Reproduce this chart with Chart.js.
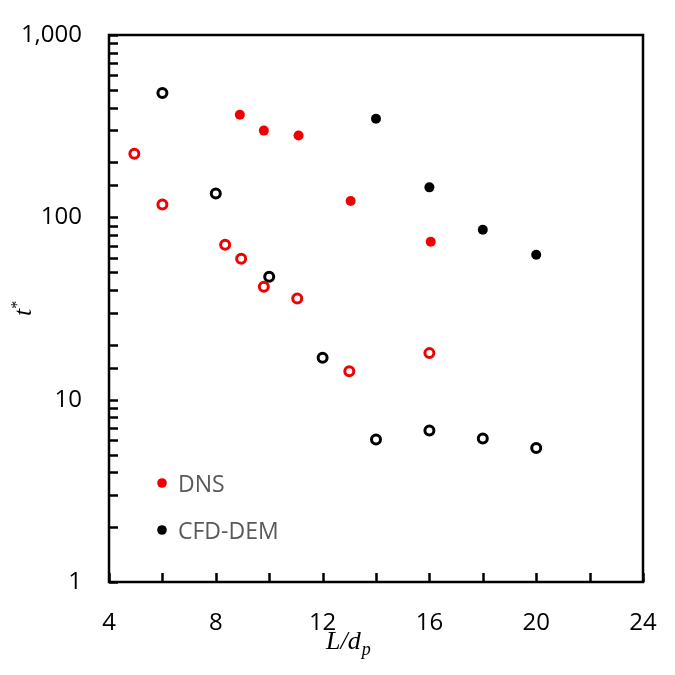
<!DOCTYPE html>
<html>
<head>
<meta charset="utf-8">
<script src="https://cdn.jsdelivr.net/npm/chart.js@4"></script>
<style>
  html, body { margin: 0; padding: 0; background: #fff; }
  #wrap { width: 675px; height: 675px; position: relative; }
</style>
</head>
<body>
<div id="wrap"><canvas id="chart"></canvas></div>
<script>
// valores (x = L/dp, y = t*)
const dnsSolidX = [8.9, 9.8, 11.1, 13.05, 16.05];
const dnsSolidY = [365, 299, 281, 123, 73.4];
const dnsOpenX = [4.95, 6, 8.35, 8.95, 9.8, 11.05, 13, 16];
const dnsOpenY = [223, 117.5, 70.7, 59.2, 41.6, 35.9, 14.3, 18.0];
const cfdSolidX = [14, 16, 18, 20];
const cfdSolidY = [347, 146, 85.4, 62.3];
const cfdOpenX = [6, 8, 10, 12, 14, 16, 18, 20];
const cfdOpenY = [481, 135, 47.2, 17.0, 6.05, 6.78, 6.13, 5.43];

// etiquetas de los ejes
const xTickLabels = ['4', '8', '12', '16', '20', '24'];
const yTickLabels = ['1', '10', '100', '1,000'];
const legendNames = ['DNS', 'CFD-DEM'];

const RED = '#f00000';
const BLACK = '#000000';

// juntar x e y en puntos
function toPoints(xs, ys) {
    return xs.map((x, i) => ({ x: x, y: ys[i] }));
}

// ticks hacia adentro, marco, leyenda y titulos
const decor = {
    id: 'decor',
    afterDraw(chart) {
        const ctx = chart.ctx;
        const a = chart.chartArea;
        const xs = chart.scales.x;
        const ys = chart.scales.y;
        ctx.save();
        ctx.strokeStyle = '#000';
        ctx.lineWidth = 2.5;
        ctx.beginPath();
        ys.ticks.forEach(t => {
            const py = Math.round(ys.getPixelForValue(t.value)) + 0.5;
            ctx.moveTo(a.left, py);
            ctx.lineTo(a.left + 9, py);
        });
        xs.ticks.forEach(t => {
            const px = Math.round(xs.getPixelForValue(t.value)) + 0.5;
            ctx.moveTo(px, a.bottom);
            ctx.lineTo(px, a.bottom - 9);
        });
        ctx.stroke();
        ctx.strokeRect(a.left, a.top, a.right - a.left, a.bottom - a.top);

        // leyenda dentro del area
        const colors = [RED, BLACK];
        ctx.font = '23px "Open Sans"';
        ctx.textBaseline = 'alphabetic';
        ctx.textAlign = 'left';
        legendNames.forEach((name, i) => {
            const cy = a.top + 448 + i * 47;
            ctx.fillStyle = colors[i];
            ctx.beginPath();
            ctx.arc(a.left + 53, cy, 4.8, 0, Math.PI * 2);
            ctx.fill();
            ctx.fillStyle = '#595959';
            ctx.fillText(name, a.left + 69, cy + 9);
        });

        // titulo eje x: L/d_p
        ctx.fillStyle = '#000';
        ctx.font = 'italic 26px "Liberation Serif"';
        ctx.fillText('L/d', 326, 649);
        const w = ctx.measureText('L/d').width;
        ctx.font = 'italic 18px "Liberation Serif"';
        ctx.fillText('p', 326 + w + 1, 655);

        // titulo eje y: t*
        ctx.translate(31, 316);
        ctx.rotate(-Math.PI / 2);
        ctx.font = 'italic 26px "Liberation Serif"';
        ctx.fillText('t', 0, 0);
        const tw = ctx.measureText('t').width;
        ctx.font = '16px "Liberation Serif"';
        ctx.fillText('*', tw, -9);
        ctx.restore();
    }
};

const ctx = document.getElementById('chart').getContext('2d');
new Chart(ctx, {
    type: 'scatter',
    data: {
        datasets: [
            { label: 'DNS', data: toPoints(dnsSolidX, dnsSolidY), backgroundColor: RED, borderWidth: 0, pointRadius: 5 },
            { label: 'DNS open', data: toPoints(dnsOpenX, dnsOpenY), backgroundColor: '#fff', borderColor: RED, borderWidth: 3, pointRadius: 4.5 },
            { label: 'CFD-DEM', data: toPoints(cfdSolidX, cfdSolidY), backgroundColor: BLACK, borderWidth: 0, pointRadius: 5 },
            { label: 'CFD-DEM open', data: toPoints(cfdOpenX, cfdOpenY), backgroundColor: '#fff', borderColor: BLACK, borderWidth: 3, pointRadius: 4.5 }
        ]
    },
    options: {
        responsive: true,
        maintainAspectRatio: false,
        animation: false,
        layout: { padding: { top: 35, right: 32, left: 0, bottom: 0 } },
        plugins: { legend: { display: false }, tooltip: { enabled: false } },
        scales: {
            x: {
                type: 'linear',
                min: 4,
                max: 24,
                afterFit(scale) {
                    scale.height = 93;
                    scale.paddingLeft = 0;
                    scale.paddingRight = 0;
                },
                grid: { display: true, drawOnChartArea: false, drawTicks: false, color: 'rgba(0,0,0,0)' },
                border: { display: false },
                ticks: {
                    stepSize: 2,
                    autoSkip: false,
                    maxRotation: 0,
                    padding: 27,
                    color: '#000',
                    font: { family: 'Open Sans', size: 24 },
                    callback: function(v) {
                        const i = xTickLabels.indexOf(String(v));
                        return i >= 0 ? xTickLabels[i] : '';
                    }
                }
            },
            y: {
                type: 'logarithmic',
                min: 1,
                max: 1000,
                afterFit(scale) {
                    scale.width = 109;
                    scale.paddingTop = 0;
                    scale.paddingBottom = 0;
                },
                grid: { display: true, drawOnChartArea: false, drawTicks: false, color: 'rgba(0,0,0,0)' },
                border: { display: false },
                ticks: {
                    autoSkip: false,
                    padding: 27,
                    color: '#000',
                    font: { family: 'Open Sans', size: 24 },
                    callback: function(v) {
                        const e = Math.log10(v);
                        return Math.abs(e - Math.round(e)) < 1e-9 ? yTickLabels[Math.round(e)] : '';
                    }
                }
            }
        }
    },
    plugins: [decor]
});
</script>
</body>
</html>
